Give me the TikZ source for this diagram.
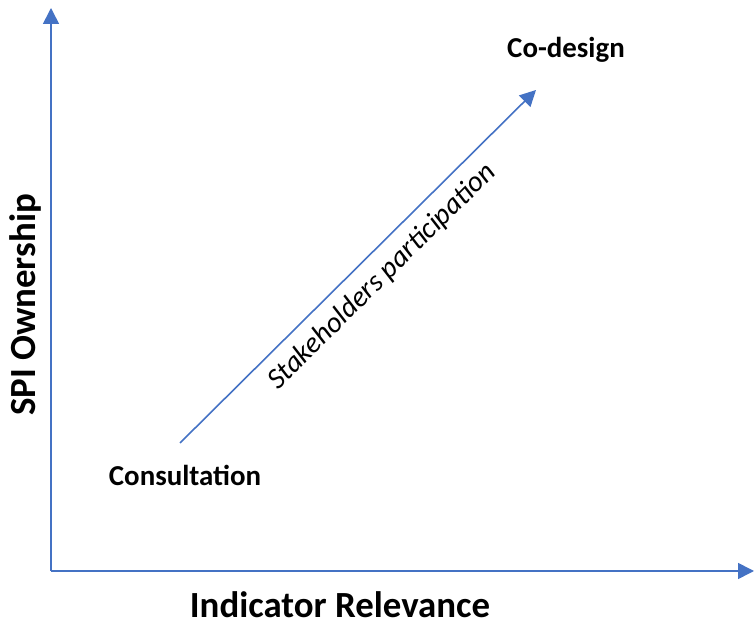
\documentclass[tikz,border=0pt]{standalone}
\usepackage{fontspec}
\setmainfont{Carlito}
\usetikzlibrary{arrows.meta}
\definecolor{ink}{HTML}{000000}
\definecolor{axisblue}{HTML}{4472C4}
\tikzset{
  axis/.style={-{Triangle[length=8bp, width=8bp]}, draw=axisblue, line width=0.8pt},
  stage/.style={font=\fontsize{14.5}{17}\selectfont\bfseries, text=ink},
  axislabel/.style={font=\fontsize{18.5}{22}\selectfont\bfseries, text=ink},
  trend/.style={font=\fontsize{14.6}{17}\selectfont\itshape, text=ink}
}
\begin{document}
\begin{tikzpicture}[x=0.5bp, y=0.5bp]
  \useasboundingbox (0,0) rectangle (754,623);

  \coordinate (origin) at (51,52);
  \coordinate (ytop) at (51,615);
  \coordinate (xend) at (754,52);
  \coordinate (start) at (180,180);
  \coordinate (finish) at (536,533);

  \node[stage] (codesign) at (566,573) {Co-design};
  \node[stage] (consult) at (185,148) {Consultation};
  \node[axislabel] (xlabel) at (340,18) {Indicator Relevance};
  \node[axislabel, rotate=90] (ylabel) at (25,318) {SPI Ownership};

  \draw[axis] (origin) -- (ytop);
  \draw[axis] (origin) -- (xend);
  \draw[axis] (start) -- (finish)
    node[trend, sloped, below, pos=0.52, inner sep=5.5pt] (partic) {Stakeholders participation};
\end{tikzpicture}
\end{document}
